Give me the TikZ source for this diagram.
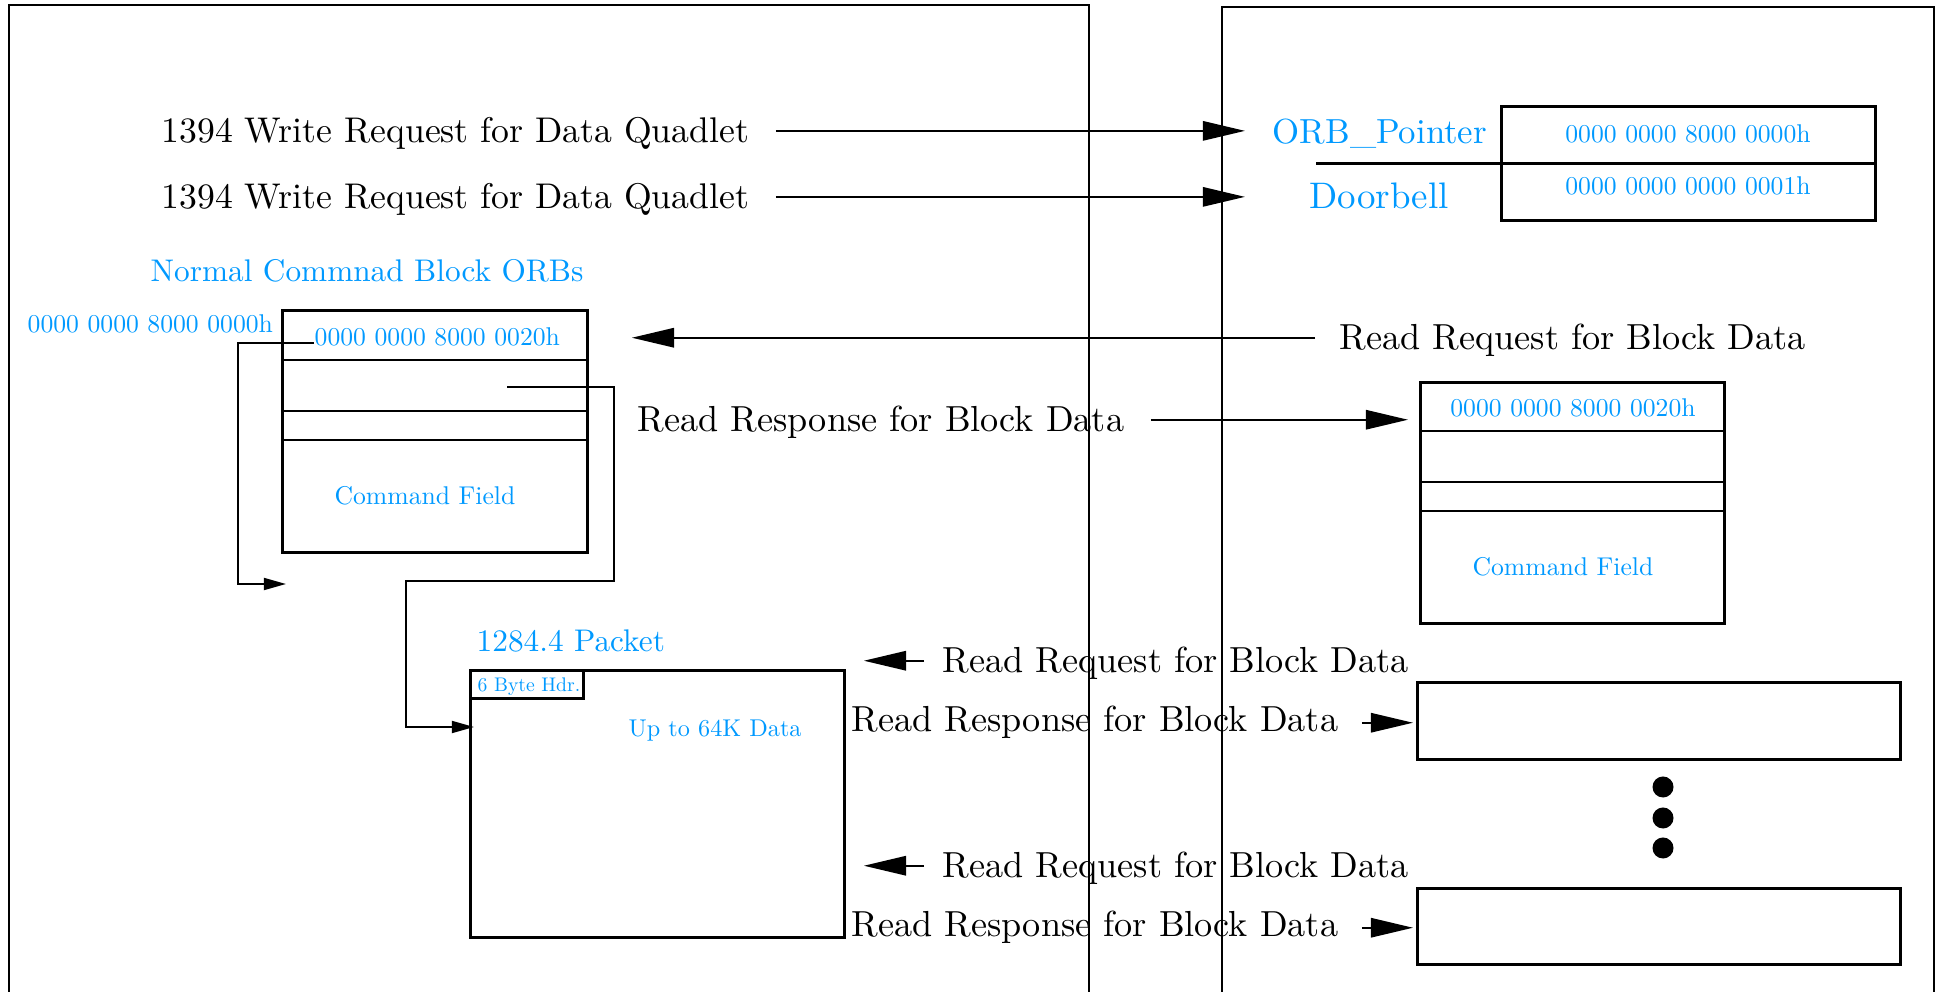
\documentclass[tikz,border=0pt]{standalone}
\usepackage{fontspec}
\setmainfont{lmroman10-regular}[Extension=.otf]
\usetikzlibrary{arrows.meta,calc}
\definecolor{orbblue}{RGB}{0,153,255}
\tikzset{
  lbl/.style={inner sep=0pt, anchor=base west},
  big/.style={lbl, font=\fontsize{10.3}{12}\selectfont},
  bluebig/.style={lbl, text=orbblue, font=\fontsize{10.5}{12}\selectfont},
  bluemid/.style={lbl, text=orbblue, font=\fontsize{8.9}{11}\selectfont},
  bluesmall/.style={lbl, text=orbblue, font=\fontsize{7.3}{9}\selectfont},
  frame/.style={line width=0.55pt},
  boxline/.style={line width=0.75pt},
  box/.style={draw, boxline, inner sep=0pt, anchor=north west},
  bigtip/.style={line width=0.6pt, -{Triangle[length=12pt,width=5.5pt]}},
  smalltip/.style={line width=0.6pt, -{Triangle[length=6.3pt,width=3.4pt]}},
  lift/.style={transform canvas={yshift=0.03cm}},
}
\begin{document}
\begin{tikzpicture}[x=0.01cm,y=-0.01cm]
  \useasboundingbox (0,0) rectangle (1942,992);
  \draw[frame] (9,1000) |- (1089,5) -- (1089,1000);
  \draw[frame] (1222,1000) |- (1934,7) -- (1934,1000);

  % write requests to the fetch agent registers
  \node[big, font=\fontsize{10.15}{12}\selectfont] (wr1) at (161,143) {1394 Write Request for Data Quadlet};
  \node[big, font=\fontsize{10.15}{12}\selectfont] (wr2) at (161,209) {1394 Write Request for Data Quadlet};
  \node[bluebig, font=\fontsize{9.9}{12}\selectfont] (orbp) at (1272,144) {ORB\_Pointer};
  \node[bluebig] (bell) at (1309,209) {Doorbell};
  \node[box, minimum width=3.74cm, minimum height=1.14cm] (reg) at (1500,105) {};
  \draw[boxline] (reg.east) -- ++(-561,0);
  \node[bluesmall, anchor=base] (reg0) at (1688,143) {0000 0000 8000 0000h};
  \node[bluesmall, anchor=base] (reg1) at (1688,195) {0000 0000 0000 0001h};
  \draw[bigtip, lift, shorten <=0.26cm, shorten >=0.27cm] (wr1.east) -- (wr1.east -| orbp.west);
  \draw[bigtip, lift, shorten <=0.26cm, shorten >=0.64cm] (wr2.east) -- (wr2.east -| bell.west);

  % ORB in host memory
  \node[bluemid] (ncb) at (150,282) {Normal Commnad Block ORBs};
  \node[bluesmall] (laddr) at (27,333) {0000 0000 8000 0000h};
  \node[box, minimum width=3.05cm, minimum height=2.42cm] (lorb) at (281,309) {};
  \foreach \dy in {51,102,131}
    \draw[boxline] ($(lorb.north west)+(0,\dy)$) -- ++(305,0);
  \node[bluesmall] (lin) at (314,346) {0000 0000 8000 0020h};
  \node[bluesmall, anchor=base] (lcmd) at (425,505) {Command Field};
  \coordinate (lret) at (286,584);
  \draw[smalltip] (lin.base west) ++(0,-3) -- ++(-76,0) |- (lret);

  % data packet
  \node[bluemid] (pktlbl) at (476,652) {1284.4 Packet};
  \node[box, minimum width=3.74cm, minimum height=2.67cm] (pkt) at (469,669) {};
  \node[box, minimum width=1.13cm, minimum height=0.28cm] (hdr) at (pkt.north west) {};
  \node[lbl, text=orbblue, font=\fontsize{5.6}{7}\selectfont] (hdrlbl) at (477,692) {6 Byte Hdr.};
  \node[lbl, text=orbblue, font=\fontsize{6.9}{8}\selectfont] (datalbl) at (628,737) {Up to 64K Data};
  \coordinate (nxt) at (507,387);
  \coordinate (pin) at (474,727);
  \draw[smalltip] (nxt) -- (614,387) -- (614,581) -- (406,581) |- (pin);

  % ORB fetch
  \node[big] (rq0) at (1339,350) {Read Request for Block Data};
  \node[big] (rs0) at (637,432) {Read Response for Block Data};
  \node[box, minimum width=3.04cm, minimum height=2.41cm] (rorb) at (1419,381) {};
  \foreach \dy in {50,101,130}
    \draw[boxline] ($(rorb.north west)+(0,\dy)$) -- ++(304,0);
  \node[bluesmall, anchor=base] (rin) at (1573,417) {0000 0000 8000 0020h};
  \node[bluesmall, anchor=base] (rcmd) at (1563,576) {Command Field};
  \draw[bigtip, lift, shorten <=0.24cm, shorten >=0.43cm] (rq0.west) -- (rq0.west -| lorb.east);
  \draw[bigtip, lift, shorten <=0.26cm, shorten >=0.11cm] (rs0.east) -- (rs0.east -| rorb.west);

  % data transfer
  \node[box, minimum width=4.83cm, minimum height=0.77cm] (blk1) at (1416,681) {};
  \node[box, minimum width=4.83cm, minimum height=0.76cm] (blk2) at (1416,887) {};
  \foreach \y in {787,818,848}
    \fill (1663,\y) circle[radius=0.105cm];
  \node[big] (rq1) at (942,673) {Read Request for Block Data};
  \node[big] (rs1) at (851,732) {Read Response for Block Data};
  \node[big] (rq2) at (942,878) {Read Request for Block Data};
  \node[big] (rs2) at (851,937) {Read Response for Block Data};
  \draw[bigtip, lift, shorten <=0.18cm, shorten >=0.18cm] (rq1.west) -- (rq1.west -| pkt.east);
  \draw[bigtip, lift, shorten <=0.18cm, shorten >=0.18cm] (rq2.west) -- (rq2.west -| pkt.east);
  \draw[bigtip, shorten <=0.23cm, shorten >=0.03cm] (rs1.east) -- (rs1.east -| blk1.west);
  \draw[bigtip, shorten <=0.23cm, shorten >=0.03cm] (rs2.east) -- (rs2.east -| blk2.west);
\end{tikzpicture}
\end{document}
